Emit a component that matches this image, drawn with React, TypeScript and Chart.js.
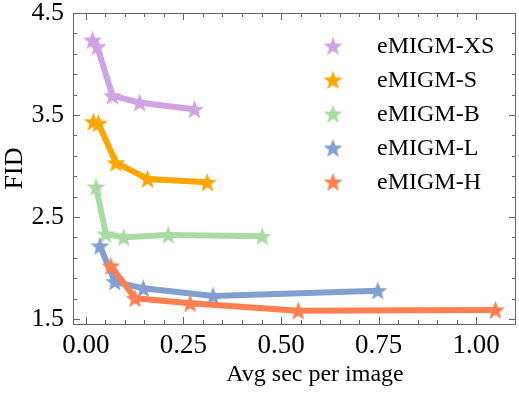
import React, { useEffect, useRef } from 'react';
import { Chart, registerables } from 'chart.js';

Chart.register(...registerables);

const seriesNames = ['eMIGM-XS', 'eMIGM-S', 'eMIGM-B', 'eMIGM-L', 'eMIGM-H'];
const seriesColors = ['#CFA3E4', '#FFA500', '#A9DBA3', '#819FCF', '#FF7F50'];

const xsTime = [0.017, 0.029, 0.068, 0.138, 0.278];
const xsFid = [4.235, 4.17, 3.69, 3.62, 3.556];
const sTime = [0.019, 0.032, 0.077, 0.158, 0.311];
const sFid = [3.434, 3.419, 3.032, 2.873, 2.84];
const bTime = [0.026, 0.051, 0.097, 0.211, 0.452];
const bFid = [2.794, 2.333, 2.3, 2.324, 2.31];
const lTime = [0.036, 0.074, 0.147, 0.326, 0.748];
const lFid = [2.216, 1.866, 1.8, 1.725, 1.777];
const hTime = [0.064, 0.126, 0.267, 0.544, 1.049];
const hFid = [2.02, 1.703, 1.654, 1.581, 1.588];

const seriesTimes = [xsTime, sTime, bTime, lTime, hTime];
const seriesFids = [xsFid, sFid, bFid, lFid, hFid];

const xMajorTicks = [0, 0.25, 0.5, 0.75, 1.0];
const xTickLabels = ['0.00', '0.25', '0.50', '0.75', '1.00'];
const xMinorStep = 0.05;
const yMajorTicks = [1.5, 2.5, 3.5, 4.5];
const yMinorStep = 0.2;

const xTitle = 'Avg sec per image';
const yTitle = 'FID';

const SERIF = "'Liberation Serif', 'Times New Roman', serif";

function makeStar(color: string, size = 21, outer = 10, inner = 4.2) {
  const c = document.createElement('canvas');
  c.width = size;
  c.height = size;
  const ctx = c.getContext('2d')!;
  ctx.beginPath();
  for (let i = 0; i < 10; i++) {
    const r = i % 2 ? inner : outer;
    const a = -Math.PI / 2 + (i * Math.PI) / 5;
    ctx.lineTo(size / 2 + r * Math.cos(a), size / 2 + 0.8 + r * Math.sin(a));
  }
  ctx.closePath();
  ctx.fillStyle = color;
  ctx.fill();
  return c;
}

export default function App() {
  const ref = useRef<HTMLCanvasElement | null>(null);

  useEffect(() => {
    const stars = seriesColors.map((c) => makeStar(c));

    const framePlugin = {
      id: 'framePlugin',
      afterDraw(chart: any) {
        const ctx = chart.ctx as CanvasRenderingContext2D;
        const { left, right, top, bottom } = chart.chartArea;
        const xs = chart.scales.x;
        const ys = chart.scales.y;
        ctx.save();
        ctx.strokeStyle = '#666';
        ctx.lineWidth = 1;
        ctx.strokeRect(Math.round(left) + 0.5, Math.round(top) + 0.5, Math.round(right - left) - 1, Math.round(bottom - top));
        ctx.beginPath();
        const nX = Math.round((xMajorTicks[xMajorTicks.length - 1] - xMajorTicks[0]) / xMinorStep);
        for (let i = 0; i <= nX; i++) {
          const v = xMajorTicks[0] + i * xMinorStep;
          const major = xMajorTicks.some((m) => Math.abs(m - v) < 1e-6);
          const len = major ? 7 : 4;
          const px = Math.round(xs.getPixelForValue(v)) + 0.5;
          ctx.moveTo(px, bottom);
          ctx.lineTo(px, bottom - len);
          ctx.moveTo(px, top);
          ctx.lineTo(px, top + len);
        }
        const nY = Math.round((yMajorTicks[yMajorTicks.length - 1] - yMajorTicks[0]) / yMinorStep);
        for (let i = 0; i <= nY; i++) {
          const v = yMajorTicks[0] + i * yMinorStep;
          const major = yMajorTicks.some((m) => Math.abs(m - v) < 1e-6);
          const len = major ? 7 : 4;
          const py = Math.round(ys.getPixelForValue(v)) + 0.5;
          ctx.moveTo(left, py);
          ctx.lineTo(left + len, py);
          ctx.moveTo(right, py);
          ctx.lineTo(right - len, py);
        }
        ctx.stroke();

        ctx.fillStyle = '#000';
        ctx.font = `27px ${SERIF}`;
        ctx.textAlign = 'center';
        ctx.textBaseline = 'alphabetic';
        xMajorTicks.forEach((v, i) => {
          ctx.fillText(xTickLabels[i], xs.getPixelForValue(v), bottom + 29);
        });

        ctx.font = `24px ${SERIF}`;
        ctx.textBaseline = 'middle';
        ctx.fillText(xTitle, 315, 375);
        ctx.font = `26px ${SERIF}`;
        ctx.save();
        ctx.translate(15, 168.5);
        ctx.rotate(-Math.PI / 2);
        ctx.fillText(yTitle, 0, 0);
        ctx.restore();

        ctx.font = `24px ${SERIF}`;
        ctx.textAlign = 'left';
        chart.data.datasets.forEach((ds: any, i: number) => {
          const y = 46 + i * 34;
          const img = stars[i];
          ctx.drawImage(img, 333 - img.width / 2, y - img.height / 2);
          ctx.fillText(ds.label, 377, y + 1);
        });
        ctx.restore();
      },
    };

    const chart = new Chart(ref.current!, {
      type: 'line',
      data: {
        datasets: seriesNames.map((name, i) => ({
          label: name,
          data: seriesTimes[i].map((t, j) => ({ x: t, y: seriesFids[i][j] })),
          borderColor: seriesColors[i],
          backgroundColor: seriesColors[i],
          borderWidth: 6,
          borderJoinStyle: 'round' as const,
          borderCapStyle: 'round' as const,
          pointStyle: stars[i],
          pointRadius: 9,
          order: seriesNames.length - 1 - i,
        })),
      },
      options: {
        animation: false,
        responsive: false,
        devicePixelRatio: 1,
        layout: { autoPadding: false, padding: { top: 13, right: 3, left: 0, bottom: 0 } },
        plugins: { legend: { display: false }, tooltip: { enabled: false } },
        scales: {
          x: {
            type: 'linear',
            min: -0.033,
            max: 1.102,
            grid: { display: false, drawTicks: false },
            border: { display: false },
            afterBuildTicks: (s: any) => {
              s.ticks = xMajorTicks.map((v) => ({ value: v }));
            },
            afterFit: (s: any) => {
              s.height = 70;
              s.paddingLeft = 0;
              s.paddingRight = 0;
            },
            ticks: { display: false },
          },
          y: {
            type: 'linear',
            min: 1.45,
            max: 4.5,
            grid: { display: false, drawTicks: false },
            border: { display: false },
            afterBuildTicks: (s: any) => {
              s.ticks = yMajorTicks.map((v) => ({ value: v }));
            },
            afterFit: (s: any) => {
              s.width = 73;
              s.paddingTop = 0;
              s.paddingBottom = 0;
            },
            ticks: {
              color: '#000',
              font: { family: SERIF, size: 26 },
              padding: 9,
              callback: (v: any) => Number(v).toFixed(1),
            },
          },
        },
      },
      plugins: [framePlugin],
    });
    return () => chart.destroy();
  }, []);

  return (
    <div style={{ position: 'absolute', left: 0, top: 0, width: 519, height: 394, background: '#fff' }}>
      <canvas ref={ref} width={519} height={394} />
    </div>
  );
}
